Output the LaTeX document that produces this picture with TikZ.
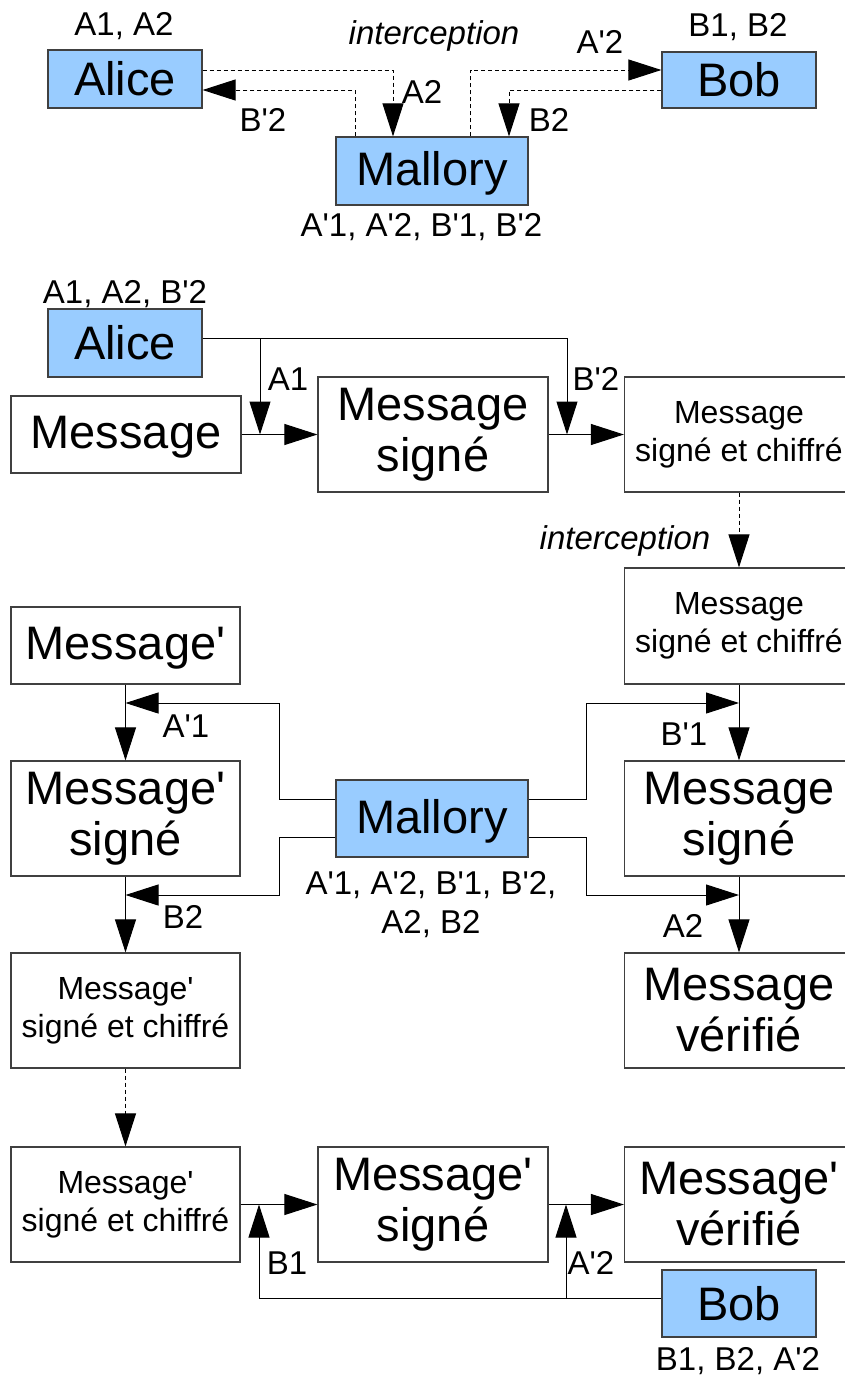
\documentclass[tikz,border=0pt]{standalone}
\usepackage{fontspec}
\usetikzlibrary{arrows.meta}
\newfontfamily\lib{Liberation Sans}
\newcommand\fbig{\lib\fontsize{47}{51}\selectfont}
\newcommand\fsmall{\lib\fontsize{32}{38}\selectfont}
\newcommand\flab{\lib\fontsize{33}{38}\selectfont}
\definecolor{boxblue}{HTML}{99CCFF}
\definecolor{boxline}{HTML}{404040}
\tikzset{
  box/.style={draw=boxline, line width=1.2pt, inner sep=0pt, align=center, fill=white},
  pbox/.style={box, fill=boxblue, font=\fbig},
  bigbox/.style={box, font=\fbig},
  smallbox/.style={box, font=\fsmall},
  oneline/.style={text depth=5pt},
  lbl/.style={anchor=base, inner sep=0pt, font=\flab},
  ilbl/.style={anchor=base, inner sep=0pt, font=\flab\itshape},
  conn/.style={line width=1pt, black},
  arr/.style={conn, -{Triangle[length=33pt,width=21pt]}},
  dsh/.style={dash pattern=on 4pt off 3pt},
}
\begin{document}
\begin{tikzpicture}[x=1pt,y=-1pt]
\useasboundingbox (0,0) rectangle (845,1379);

% ---------- top section ----------
\node[pbox, minimum width=154pt, minimum height=58pt] (alice1) at (125,79) {Alice};
\node[pbox, minimum width=154pt, minimum height=56pt] (bob1) at (739,80) {Bob};
\node[pbox, oneline, minimum width=192pt, minimum height=68pt] (mal1) at (432,171) {Mallory};

\node[lbl] (l1) at (124,35) {A1, A2};
\node[ilbl] (l2) at (434,44) {interception};
\node[lbl] (l3) at (600,53) {A'2};
\node[lbl] (l4) at (738,36) {B1, B2};
\node[lbl] (l5) at (422,103) {A2};
\node[lbl] (l6) at (263,131) {B'2};
\node[lbl] (l7) at (549,131) {B2};
\node[lbl] (l8) at (421.5,236) {A'1, A'2, B'1, B'2};

\coordinate (t1) at (393,70);
\coordinate (t2) at (355,90);
\coordinate (t3) at (470.5,70);
\coordinate (t4) at (509,90);
\draw[arr,dsh] (alice1.east |- t1) -- (t1) -- (t1 |- mal1.north);
\draw[arr,dsh] (t2 |- mal1.north) -- (t2) -- (alice1.east |- t2);
\draw[arr,dsh] (t3 |- mal1.north) -- (t3) -- (bob1.west |- t3);
\draw[arr,dsh] (bob1.west |- t4) -- (t4) -- (t4 |- mal1.north);

% ---------- section 2 ----------
\node[pbox, minimum width=154pt, minimum height=68pt] (alice2) at (125,343) {Alice};
\node[bigbox, oneline, minimum width=230pt, minimum height=77pt] (msg) at (126,434.5) {Message};
\node[bigbox, minimum width=230pt, minimum height=115pt] (msgs) at (433,434.5) {Message\\signé};
\node[smallbox, minimum width=229pt, minimum height=115pt] (msgsc) at (739,434.5) {Message\\signé et chiffré};

\node[lbl] (l9) at (125,303) {A1, A2, B'2};
\node[lbl] (l10) at (288,390) {A1};
\node[lbl] (l11) at (596,390) {B'2};
\node[ilbl] (l12) at (625,549) {interception};

\coordinate (j1) at (260,338);
\coordinate (j2) at (567,338);
\draw[conn] (alice2.east |- j1) -- (j2);
\draw[arr] (j1) -- (j1 |- msg.east);
\draw[arr] (j2) -- (j2 |- msgs.east);
\draw[arr] (msg.east) -- (msgs.west);
\draw[arr] (msgs.east) -- (msgsc.west);

% ---------- section 3 ----------
\node[smallbox, minimum width=229pt, minimum height=116pt] (msgsc2) at (739,626) {Message\\signé et chiffré};
\node[bigbox, oneline, minimum width=229pt, minimum height=77pt] (msgp) at (125.5,645.5) {Message'};
\node[bigbox, minimum width=229pt, minimum height=115pt] (msgps) at (125.5,818.5) {Message'\\signé};
\node[pbox, oneline, minimum width=192pt, minimum height=77pt] (mal2) at (432,818.5) {Mallory};
\node[bigbox, minimum width=229pt, minimum height=115pt] (msgs2) at (739,818.5) {Message\\signé};
\node[smallbox, minimum width=229pt, minimum height=115pt] (msgpsc) at (125.5,1010.5) {Message'\\signé et chiffré};
\node[bigbox, minimum width=229pt, minimum height=115pt] (msgv) at (739,1010.5) {Message\\vérifié};

\draw[arr,dsh] (msgsc.south) -- (msgsc2.north);

\node[lbl] (l13) at (186,737) {A'1};
\node[lbl] (l14) at (684,745) {B'1};
\node[lbl] (l15) at (183,928) {B2};
\node[lbl] (l16) at (683,937) {A2};
\node[lbl] (l17) at (431,894) {A'1, A'2, B'1, B'2,};
\node[lbl] (l18) at (431,933) {A2, B2};

\draw[arr] (msgp.south) -- (msgps.north);
\draw[arr] (msgps.south) -- (msgpsc.north);
\draw[arr] (msgsc2.south) -- (msgs2.north);
\draw[arr] (msgs2.south) -- (msgv.north);

\coordinate (m1) at (279,799);
\coordinate (m2) at (279,703);
\coordinate (m3) at (279,837);
\coordinate (m4) at (279,895);
\coordinate (m5) at (586,799);
\coordinate (m6) at (586,703);
\coordinate (m7) at (586,837);
\coordinate (m8) at (586,895);
\draw[arr] (mal2.west |- m1) -- (m1) -- (m2) -- (msgp.south |- m2);
\draw[arr] (mal2.west |- m3) -- (m3) -- (m4) -- (msgps.south |- m4);
\draw[arr] (mal2.east |- m5) -- (m5) -- (m6) -- (msgsc2.south |- m6);
\draw[arr] (mal2.east |- m7) -- (m7) -- (m8) -- (msgs2.south |- m8);

% ---------- section 4 ----------
\node[smallbox, minimum width=229pt, minimum height=115pt] (msgpsc2) at (125.5,1204.5) {Message'\\signé et chiffré};
\node[bigbox, minimum width=230pt, minimum height=115pt] (msgps2) at (433,1204.5) {Message'\\signé};
\node[bigbox, minimum width=229pt, minimum height=115pt] (msgpv) at (739,1204.5) {Message'\\vérifié};
\node[pbox, minimum width=154pt, minimum height=67pt] (bob2) at (739,1303.5) {Bob};

\draw[arr,dsh] (msgpsc.south) -- (msgpsc2.north);
\draw[arr] (msgpsc2.east) -- (msgps2.west);
\draw[arr] (msgps2.east) -- (msgpv.west);

\coordinate (b1) at (259,1298);
\coordinate (b2) at (566,1298);
\draw[conn] (bob2.west |- b1) -- (b1);
\draw[arr] (b1) -- (b1 |- msgpsc2.east);
\draw[arr] (b2) -- (b2 |- msgps2.east);

\node[lbl] (l19) at (287,1274) {B1};
\node[lbl] (l20) at (591,1274) {A'2};
\node[lbl] (l21) at (738,1370) {B1, B2, A'2};
\end{tikzpicture}
\end{document}
